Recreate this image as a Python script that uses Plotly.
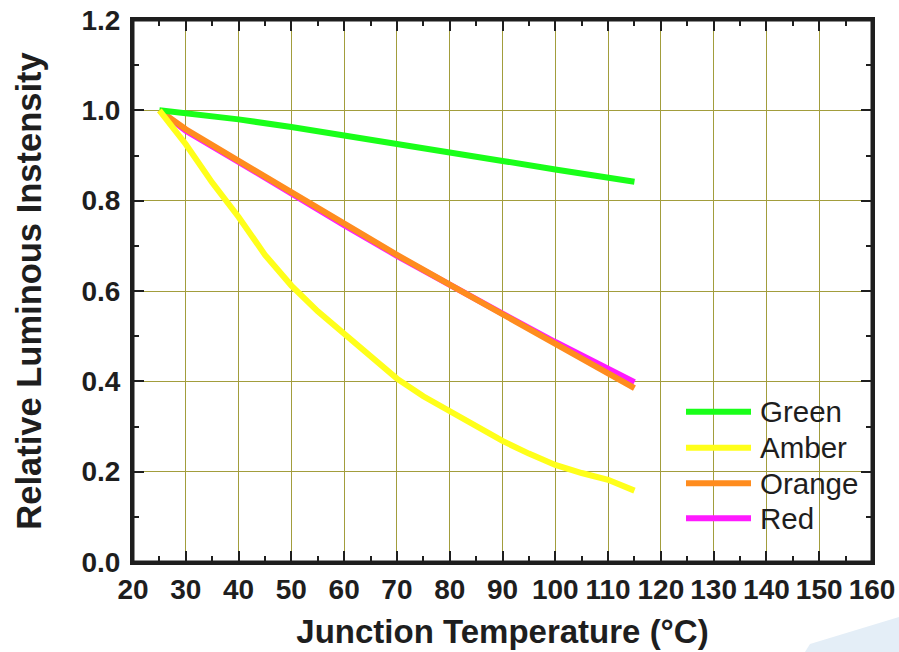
import plotly.graph_objects as go

# ---- data ----
temp_green = [25, 30, 40, 50, 60, 70, 80, 90, 100, 110, 115]
green = [1.0, 0.994, 0.980, 0.963, 0.945, 0.927, 0.908, 0.888, 0.869, 0.851, 0.842]

temp_amber = [25, 30, 35, 40, 45, 50, 55, 60, 65, 70, 75, 80, 85, 90, 95, 100, 105, 110, 115]
amber = [1.0, 0.925, 0.840, 0.764, 0.680, 0.612, 0.555, 0.506, 0.455, 0.406, 0.367,
         0.333, 0.299, 0.268, 0.240, 0.215, 0.197, 0.182, 0.158]

temp_orange = [25, 30, 40, 50, 60, 70, 80, 90, 100, 110, 115]
orange = [1.0, 0.958, 0.888, 0.818, 0.748, 0.680, 0.614, 0.548, 0.482, 0.417, 0.385]

temp_red = [25, 30, 40, 50, 60, 70, 80, 90, 100, 110, 115]
red = [1.0, 0.955, 0.886, 0.815, 0.746, 0.678, 0.613, 0.550, 0.487, 0.426, 0.398]

series_names = ["Green", "Amber", "Orange", "Red"]
series_colors = ["#19ff19", "#ffff1a", "#ff8c1e", "#ff1aff"]

x_ticks = list(range(20, 161, 10))
y_ticks = [0.0, 0.2, 0.4, 0.6, 0.8, 1.0, 1.2]

x_title = "Junction Temperature (°C)"
y_title = "Relative Luminous Instensity"

# ---- figure ----
FONT = "Liberation Sans, Arial, sans-serif"
TXT = "#1e1e1e"
GRID = "#a29d3c"

fig = go.Figure()
data_map = {
    "Green": (temp_green, green),
    "Amber": (temp_amber, amber),
    "Orange": (temp_orange, orange),
    "Red": (temp_red, red),
}
draw_order = ["Red", "Orange", "Green", "Amber"]
for name in draw_order:
    xs, ys = data_map[name]
    col = series_colors[series_names.index(name)]
    fig.add_trace(go.Scatter(x=xs, y=ys, mode="lines", name=name,
                             line=dict(color=col, width=6),
                             showlegend=False, hoverinfo="skip"))

axis_common = dict(
    showline=True, linewidth=3, linecolor=TXT, mirror="ticks",
    ticks="inside", ticklen=11, tickwidth=2, tickcolor=TXT,
    showgrid=True, gridcolor=GRID, gridwidth=1.3,
    zeroline=False, automargin=False, ticklabeloverflow="allow",
    tickfont=dict(family=FONT, size=28, color=TXT, weight="bold"),
)

fig.update_xaxes(range=[20, 160], tickvals=x_ticks, ticktext=[str(v) for v in x_ticks],
                 minor=dict(ticks="inside", dtick=5, tick0=20, ticklen=6, tickwidth=2,
                            tickcolor=TXT, showgrid=False),
                 ticklabelstandoff=0,
                 title=dict(text=x_title, font=dict(family=FONT, size=33, color=TXT, weight="bold"),
                            standoff=17),
                 **axis_common)
fig.update_yaxes(range=[0, 1.2], tickvals=y_ticks, ticktext=[f"{v:.1f}" for v in y_ticks],
                 minor=dict(ticks="inside", dtick=0.1, tick0=0, ticklen=6, tickwidth=2,
                            tickcolor=TXT, showgrid=False),
                 ticklabelstandoff=4,
                 title=dict(text=y_title, font=dict(family=FONT, size=34.5, color=TXT, weight="bold"),
                            standoff=30),
                 **axis_common)

W, H = 899, 652
L, R, T, B = 133, 27, 20, 90
pw, ph = W - L - R, H - T - B

def px2paper(px, py):
    return (px - L) / pw, (H - B - py) / ph

# ---- frame (box around the plot area) ----
shapes = [dict(type="rect", xref="paper", yref="paper", x0=0, x1=1, y0=0, y1=1,
               line=dict(color=TXT, width=3), layer="above")]

# ---- custom legend (long line swatches as in the original) ----
row_y = [411.7, 447.7, 483.3, 518.3]
annotations = []
for name, col, ry in zip(series_names, series_colors, row_y):
    x0, y0 = px2paper(686, ry)
    x1, _ = px2paper(751, ry)
    shapes.append(dict(type="line", xref="paper", yref="paper", x0=x0, x1=x1, y0=y0, y1=y0,
                       line=dict(color=col, width=6)))
    tx, _ = px2paper(758, ry)
    annotations.append(dict(text=name, xref="paper", yref="paper", x=tx, y=y0,
                            xanchor="left", yanchor="middle", showarrow=False,
                            font=dict(family=FONT, size=29.5, color=TXT)))

# faint watermark in the bottom-right corner
wx0, wy0 = px2paper(805, 652)
wx1, wy1 = px2paper(810, 644)
wx2, wy2 = px2paper(899, 617)
wx3, wy3 = px2paper(899, 652)
shapes.append(dict(type="path", xref="paper", yref="paper", layer="below",
                   path=f"M{wx0},{wy0} L{wx1},{wy1} L{wx2},{wy2} L{wx3},{wy3} Z",
                   fillcolor="rgb(228,238,247)", line=dict(width=0)))

fig.update_layout(
    width=W, height=H,
    margin=dict(l=L, r=R, t=T, b=B),
    paper_bgcolor="white", plot_bgcolor="white",
    shapes=shapes, annotations=annotations,
    showlegend=False, hovermode=False,
)

fig.write_html(
    "out.html",
    config={"displayModeBar": False},
    post_script="document.body.style.margin='0';document.body.style.overflow='hidden';",
)
